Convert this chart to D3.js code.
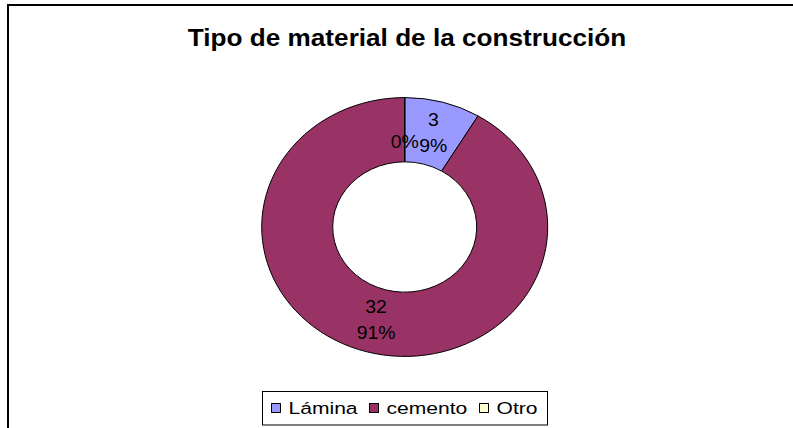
<!DOCTYPE html>
<html>
<head>
<meta charset="utf-8">
<script src="https://cdn.jsdelivr.net/npm/d3@7"></script>
<style>
  body { margin: 0; background: #fff; }
  text { font-family: Arial, "Liberation Sans", sans-serif; fill: #000; }
</style>
</head>
<body>
<script>
// chart values
var title = "Tipo de material de la construcción";
var categories = ["Lámina", "cemento", "Otro"];
var values = [3, 32, 0];
var percents = ["9%", "91%", "0%"];
var colors = ["#9999FF", "#993366", "#FFFFCC"];

var width = 793, height = 428;
var cx = 404.7, cy = 227;
var outerR = 143, innerR = 72, squash = 0.905;

var svg = d3.select("body").append("svg")
  .attr("width", width)
  .attr("height", height);

// chart area border (runs off the right and bottom edges)
svg.append("rect")
  .attr("x", 8).attr("y", 5)
  .attr("width", 800).attr("height", 440)
  .attr("fill", "#fff")
  .attr("stroke", "#000")
  .attr("stroke-width", 2);

// title
svg.append("g")
  .attr("transform", "translate(407,45.5) scale(1.09,1)")
  .append("text")
  .attr("text-anchor", "middle")
  .attr("font-size", "24px")
  .attr("font-weight", "bold")
  .text(title);

var data = categories.map(function(c, i) {
  return { name: c, value: values[i], pct: percents[i], color: colors[i] };
});

var pie = d3.pie().sort(null).value(function(d) { return d.value; });
var arcs = pie(data);

var arc = d3.arc().innerRadius(innerR).outerRadius(outerR);
var labelArc = d3.arc().innerRadius((innerR + outerR) / 2).outerRadius((innerR + outerR) / 2);

var donut = svg.append("g")
  .attr("transform", "translate(" + cx + "," + cy + ") scale(1," + squash + ")");

donut.selectAll("path")
  .data(arcs)
  .enter()
  .append("path")
  .attr("d", arc)
  .attr("fill", function(d) { return d.data.color; })
  .attr("stroke", "#000")
  .attr("stroke-width", 1)
  .attr("vector-effect", "non-scaling-stroke");

// data labels: value on the first line, percent on the second
var labels = svg.selectAll("g.lbl")
  .data(arcs)
  .enter()
  .append("g")
  .attr("class", "lbl")
  .attr("transform", function(d) {
    var c = labelArc.centroid(d);
    return "translate(" + (cx + c[0]) + "," + (cy + c[1] * squash) + ") scale(1.08,1)";
  });

labels.append("text")
  .attr("text-anchor", "middle")
  .attr("font-size", "18px")
  .attr("y", -14 + 6.4)
  .text(function(d) { return d.data.value > 0 ? d.data.value : ""; });

labels.append("text")
  .attr("text-anchor", "middle")
  .attr("font-size", "18px")
  .attr("y", 12 + 6.4)
  .text(function(d) { return d.data.pct; });

// legend
var legend = svg.append("g");
legend.append("rect")
  .attr("x", 262.5).attr("y", 391.5)
  .attr("width", 285).attr("height", 33.5)
  .attr("fill", "#fff")
  .attr("stroke", "#000")
  .attr("stroke-width", 1);

var legX = [271, 369, 479];
var items = legend.selectAll("g.item")
  .data(data)
  .enter()
  .append("g")
  .attr("class", "item");

items.append("rect")
  .attr("x", function(d, i) { return legX[i] + 0.5; })
  .attr("y", 403.5)
  .attr("width", 9).attr("height", 9)
  .attr("fill", function(d) { return d.color; })
  .attr("stroke", "#000")
  .attr("stroke-width", 1);

items.append("g")
  .attr("transform", function(d, i) { return "translate(" + (legX[i] + 17.5) + ",413.5) scale(1.24,1)"; })
  .append("text")
  .attr("font-size", "17px")
  .text(function(d) { return d.name; });
</script>
</body>
</html>
